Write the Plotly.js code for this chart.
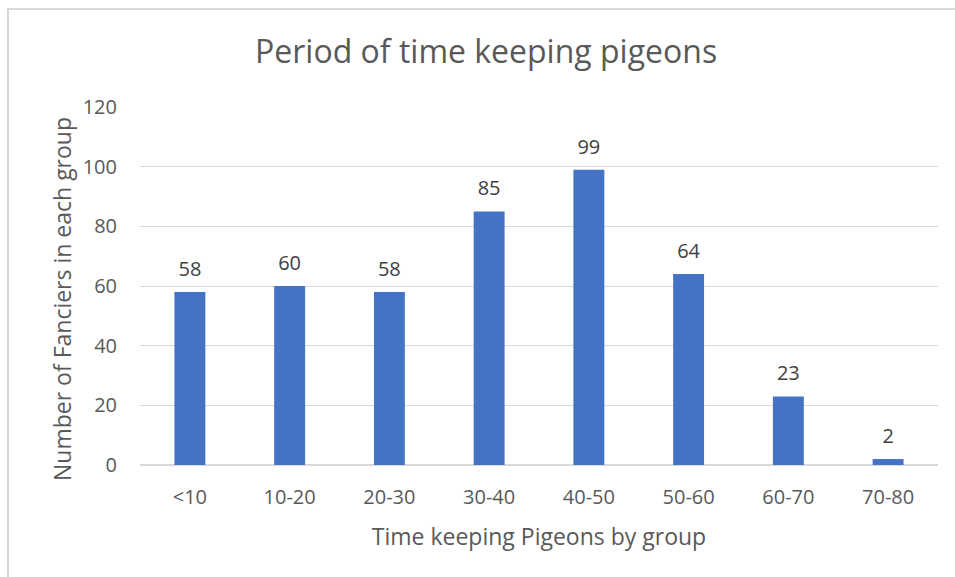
<!DOCTYPE html>
<html><head><meta charset="utf-8">
<script src="https://cdn.plot.ly/plotly-3.0.1.min.js"></script>
<style>body{margin:0;background:#fff}#wrap{position:relative;width:955px;height:577px}
#frame{position:absolute;left:7px;top:8px;width:960px;height:600px;border-left:2px solid #d9d9d9;border-top:2px solid #d9d9d9;pointer-events:none}
#chart{position:absolute;left:0;top:0;width:955px;height:577px}</style>
</head><body><div id="wrap"><div id="chart"></div><div id="frame"></div></div>
<script>
const categories = ["<10","10-20","20-30","30-40","40-50","50-60","60-70","70-80"];
const fanciers = [58,60,58,85,99,64,23,2];
const yTicks = [0,20,40,60,80,100,120];
const font = "Open Sans, Liberation Sans, sans-serif";
Plotly.newPlot('chart',[{
  type:'bar', x:categories, y:fanciers,
  marker:{color:'#4472c4'}, hoverinfo:'skip'
},{
  type:'scatter', mode:'markers+text', x:categories, y:fanciers,
  marker:{size:16,opacity:0}, text:fanciers.map(String), textposition:'top center', cliponaxis:false,
  textfont:{family:font,size:20,color:'#404040'}, hoverinfo:'skip'
}],{
  width:955,height:577,
  margin:{l:140,r:17,t:107,b:112},
  paper_bgcolor:'rgba(0,0,0,0)',plot_bgcolor:'rgba(0,0,0,0)',
  bargap:0.69,
  title:{text:'Period of time keeping pigeons',font:{family:font,size:32,color:'#595959'},x:0.509,xanchor:'center',y:0.91,yanchor:'middle'},
  xaxis:{type:'category',automargin:false,tickfont:{family:font,size:20,color:'#595959'},showgrid:false,showline:false,ticks:'',ticklabelstandoff:18,
    title:{text:'Time keeping Pigeons by group',font:{family:font,size:23,color:'#595959'},standoff:19}},
  yaxis:{range:[0,120],automargin:false,tickvals:yTicks,gridcolor:'#d9d9d9',gridwidth:1,zeroline:true,zerolinecolor:'#d9d9d9',zerolinewidth:2,
    tickfont:{family:font,size:20,color:'#595959'},ticks:'',ticklabelstandoff:22},
  annotations:[{text:'Number of Fanciers in each group',textangle:-90,xref:'paper',yref:'paper',
    x:(62-140)/798,y:(465-299)/358,xanchor:'center',yanchor:'middle',showarrow:false,
    font:{family:font,size:23,color:'#595959'}}],
  showlegend:false
},{displayModeBar:false,staticPlot:true});
</script></body></html>
